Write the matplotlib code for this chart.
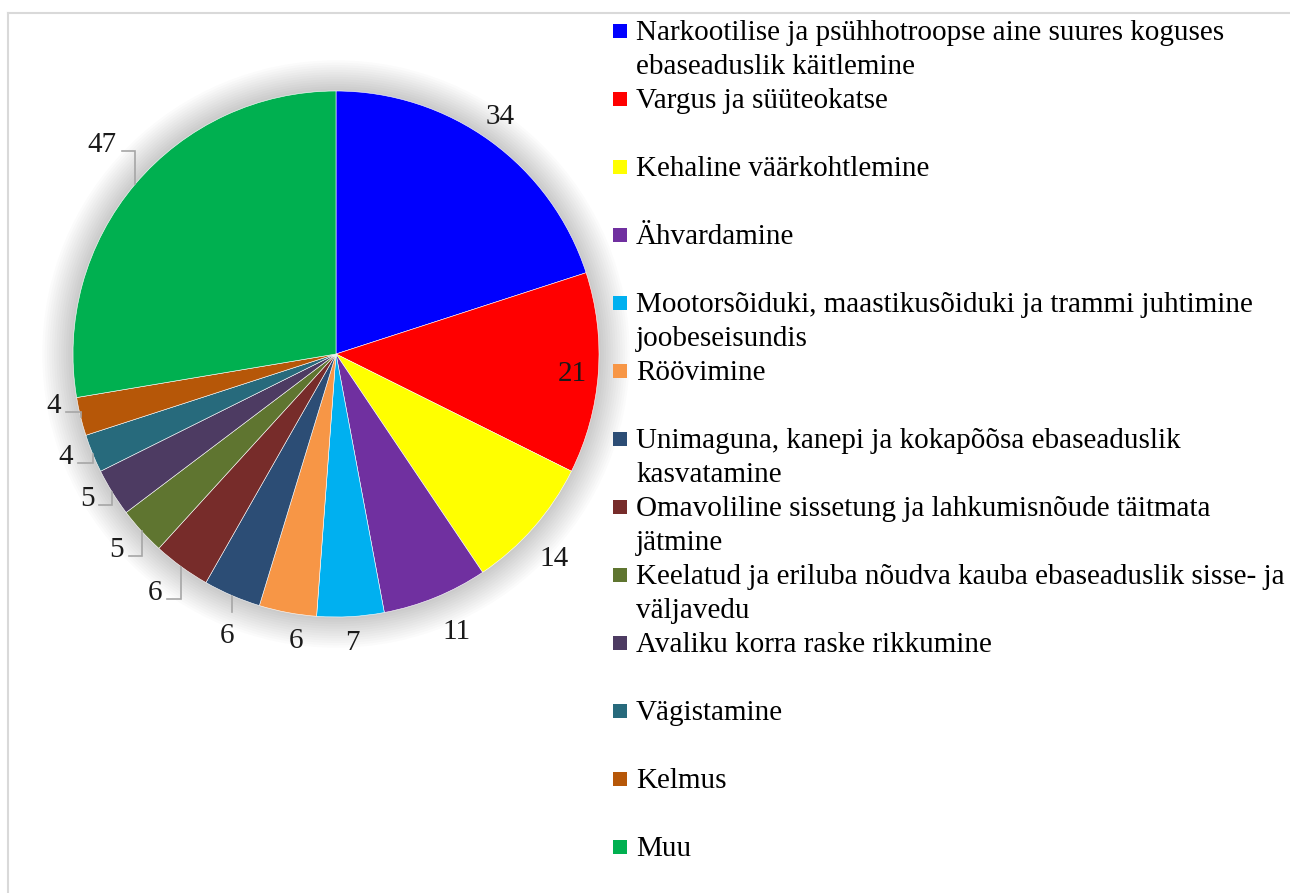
import numpy as np
import matplotlib
matplotlib.use("Agg")
import matplotlib.pyplot as plt
from matplotlib.patches import Circle, Rectangle
from matplotlib.lines import Line2D

plt.rcParams['font.family'] = ['Liberation Serif', 'DejaVu Serif']

# data
categories = [
    "Narkootilise ja psühhotroopse aine suures koguses\nebaseaduslik käitlemine",
    "Vargus ja süüteokatse",
    "Kehaline väärkohtlemine",
    "Ähvardamine",
    "Mootorsõiduki, maastikusõiduki ja trammi juhtimine\njoobeseisundis",
    "Röövimine",
    "Unimaguna, kanepi ja kokapõõsa ebaseaduslik\nkasvatamine",
    "Omavoliline sissetung ja lahkumisnõude täitmata\njätmine",
    "Keelatud ja eriluba nõudva kauba ebaseaduslik sisse- ja\nväljavedu",
    "Avaliku korra raske rikkumine",
    "Vägistamine",
    "Kelmus",
    "Muu",
]
values = [34, 21, 14, 11, 7, 6, 6, 6, 5, 5, 4, 4, 47]
colors = ['#0000FF', '#FF0000', '#FFFF00', '#7030A0', '#00B0F0', '#F79646',
          '#2C4D75', '#772C2A', '#5F7530', '#4D3B62', '#276A7C', '#B65708',
          '#00B050']

# label placement (radius factor, angle shift in degrees, leader line?)
lab_r = [1.105, 0.90, 1.13, 1.14, 1.09, 1.09, 1.14, 1.13, 1.11, 1.09, 1.097, 1.088, 1.20]
lab_shift = [1.5, 0, -1.5, 1.4, 0, 2.6, 2, -1.5, -1, -2, -2, -4, -2]
leader = [False] * 6 + [True] * 7

W, H = 1290, 893
R = 263.0          # pie radius in pixels
cx, cy = 336, 354  # pie centre in pixels (from top)
half = 336

fig = plt.figure(figsize=(W / 100, H / 100), dpi=100)
ax = fig.add_axes([(cx - half) / W, 1 - (cy + half) / H, 2 * half / W, 2 * half / H])

# soft shadow behind the pie
for k in range(1, 14):
    ax.add_patch(Circle((0, 0), 1 + k * 0.009, color='black', alpha=0.014,
                        lw=0, zorder=0))

wedges, _ = ax.pie(values, colors=colors, startangle=90, counterclock=False,
                   radius=1, wedgeprops=dict(edgecolor='white', linewidth=0.4))
for w in wedges:
    w.set_zorder(2)

lim = half / R
ax.set_xlim(-lim, lim)
ax.set_ylim(-lim, lim)
ax.set_aspect('equal')
ax.axis('off')

px = 1.0 / R
for i, w in enumerate(wedges):
    mid = np.deg2rad((w.theta1 + w.theta2) / 2)
    ang = mid + np.deg2rad(lab_shift[i])
    lx, ly = lab_r[i] * np.cos(ang), lab_r[i] * np.sin(ang)
    txt = str(values[i])
    ax.text(lx, ly - 10 * px, txt, ha='center', va='baseline', fontsize=21,
            color='#1a1a1a', zorder=4)
    if leader[i]:
        ex, ey = np.cos(mid), np.sin(mid)
        hw = len(txt) * 7.3 * px
        if abs(ex - lx) < hw:
            xs, ys = [ex, ex], [ey, ly + 21 * px]
        else:
            yl = ly - 9 * px
            xe = lx + hw + 5 * px
            xs, ys = [ex, ex, xe], [ey, yl, yl]
        ax.plot(xs, ys, color='#A6A6A6', lw=1.2, zorder=3,
                solid_joinstyle='miter')

# legend
for i, (lab, col) in enumerate(zip(categories, colors)):
    base = 39.5 + 68 * i
    fig.add_artist(Rectangle((613 / W, 1 - 38 / H - 68 * i / H), 14 / W, 14 / H,
                             transform=fig.transFigure, color=col, lw=0))
    for j, line in enumerate(lab.split('\n')):
        fig.text(636 / W, 1 - (base + 34 * j) / H, line, ha='left',
                 va='baseline', fontsize=21, color='black')

# chart frame
fig.add_artist(Line2D([8 / W, 1], [1 - 13 / H, 1 - 13 / H], color='#D9D9D9',
                      lw=1.5, transform=fig.transFigure))
fig.add_artist(Line2D([8 / W, 8 / W], [0, 1 - 13 / H], color='#D9D9D9',
                      lw=1.5, transform=fig.transFigure))

fig.savefig('out.png', dpi=100)
